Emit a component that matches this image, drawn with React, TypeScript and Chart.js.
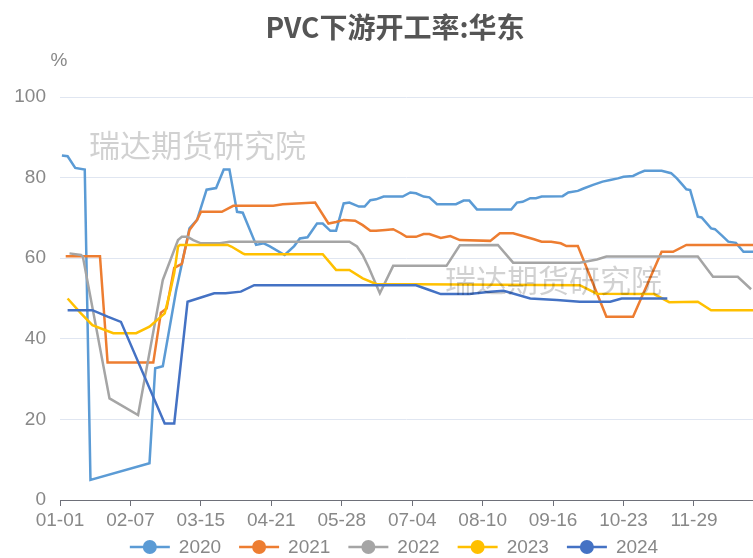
import React, { useEffect, useRef } from "react";
import { Chart, registerables } from "chart.js";

Chart.register(...registerables);

// ---- text ----
const TITLE = "PVC下游开工率:华东";
const UNIT = "%";
const WATERMARK = "瑞达期货研究院";

// ---- axes (category calendar is a leap year: day 0 = 01-01) ----
const xTickDays = [0, 37, 74, 111, 148, 185, 222, 259, 296, 333]; // 01-01 ... 11-29
const yTicks = [0, 20, 40, 60, 80, 100];

// ---- series (x = day of year, 0 = 01-01) ----
const seriesNames = ["2020", "2021", "2022", "2023", "2024"];
const seriesColors = ["#5B9BD5", "#ED7D31", "#A5A5A5", "#FFC000", "#4472C4"];

const days2020 = [1, 4, 8, 13, 16, 47, 50, 54, 61, 68, 72, 77, 82, 86, 89, 93, 96, 103, 107, 110, 118, 123, 126, 130, 135, 138, 142, 145, 149, 152, 157, 160, 163, 166, 170, 180, 184, 187, 191, 194, 198, 208, 212, 215, 219, 237, 240, 243, 247, 250, 253, 264, 267, 272, 275, 280, 285, 289, 293, 296, 301, 304, 307, 316, 321, 324, 327, 329, 331, 335, 337, 342, 344, 348, 351, 355, 359, 364];
const vals2020 = [85.5, 85.3, 82.4, 82, 5, 9.1, 32.7, 33.2, 52, 67.4, 69.5, 77, 77.4, 82, 82, 71.5, 71.3, 63.3, 63.7, 63, 60.8, 63, 64.9, 65.2, 68.6, 68.6, 66.8, 66.8, 73.6, 73.8, 72.8, 72.8, 74.4, 74.6, 75.3, 75.3, 76.3, 76.1, 75.3, 75.1, 73.4, 73.4, 74.3, 74.3, 72.1, 72.1, 73.8, 74, 74.9, 74.9, 75.3, 75.4, 76.3, 76.7, 77.3, 78.2, 79, 79.4, 79.8, 80.2, 80.4, 81.1, 81.7, 81.7, 81.1, 79.8, 78.2, 77.1, 76.9, 70.3, 70.1, 67.4, 67.2, 65.5, 64.1, 63.8, 61.6, 61.6];

const days2021 = [3, 21, 25, 49, 53, 56, 60, 64, 68, 72, 74, 85, 91, 112, 117, 134, 141, 145, 149, 155, 159, 163, 166, 171, 175, 179, 182, 187, 191, 194, 200, 205, 210, 226, 231, 238, 243, 249, 253, 258, 263, 266, 272, 287, 301, 316, 322, 329, 364];
const vals2021 = [60.5, 60.5, 34.1, 34.1, 46.5, 47.5, 57.6, 58.6, 67, 69.5, 71.5, 71.5, 73, 73, 73.4, 73.8, 68.6, 69, 69.5, 69.3, 68.2, 66.8, 66.8, 67, 67.2, 66.2, 65.3, 65.3, 66, 66, 65, 65.5, 64.5, 64.3, 66.2, 66.2, 65.5, 64.7, 64.1, 64.1, 63.7, 63, 63, 45.5, 45.5, 61.6, 61.6, 63.3, 63.3];

const days2022 = [5, 11, 12, 26, 41, 54, 62, 64, 67, 70, 74, 84, 89, 152, 156, 159, 162, 168, 175, 203, 210, 230, 238, 273, 282, 287, 335, 343, 356, 363];
const vals2022 = [61.2, 60.8, 60.4, 25.2, 21.1, 54.6, 64.5, 65.3, 65.3, 64.5, 63.7, 63.7, 64.1, 64.1, 62.9, 60.8, 57.9, 51.3, 58.1, 58.1, 63.2, 63.3, 58.9, 58.9, 59.7, 60.4, 60.4, 55.4, 55.4, 52.3];

const days2023 = [4, 11, 17, 28, 40, 47, 55, 58, 60, 62, 63, 88, 90, 96, 97, 138, 145, 152, 159, 166, 273, 282, 312, 320, 335, 342, 364];
const vals2023 = [50, 46.3, 43.4, 41.4, 41.4, 43, 46.3, 52, 56.3, 62.9, 63.3, 63.3, 62.9, 61.2, 61, 61, 57.1, 57.1, 55, 53.6, 53.3, 51.2, 51.1, 49.1, 49.2, 47.1, 47.1];

const days2024 = [4, 17, 25, 32, 55, 60, 67, 81, 87, 95, 102, 187, 194, 200, 215, 226, 233, 247, 261, 273, 289, 295, 319];
const vals2024 = [47.1, 47.1, 45.5, 44.2, 19, 19, 49.2, 51.3, 51.3, 51.7, 53.3, 53.3, 52.1, 51.1, 51.1, 51.7, 51.9, 50, 49.6, 49.2, 49.2, 50, 50];

const seriesDays = [days2020, days2021, days2022, days2023, days2024];
const seriesVals = [vals2020, vals2021, vals2022, vals2023, vals2024];

function dayLabel(d: number): string {
  const dt = new Date(Date.UTC(2020, 0, 1 + d));
  const m = String(dt.getUTCMonth() + 1).padStart(2, "0");
  const dd = String(dt.getUTCDate()).padStart(2, "0");
  return `${m}-${dd}`;
}

const CJK = '"Noto Sans CJK SC", "Noto Sans", sans-serif';
const LAT = '"Liberation Sans", "Noto Sans", sans-serif';

const decorPlugin = {
  id: "decor",
  afterDatasetsDraw(chart: any) {
    const ctx = chart.ctx;
    ctx.save();
    ctx.font = `31px ${CJK}`;
    ctx.fillStyle = "rgba(0,0,0,0.18)";
    ctx.textBaseline = "middle";
    ctx.textAlign = "left";
    ctx.fillText(WATERMARK, 89, 145);
    ctx.fillText(WATERMARK, 445, 280);
    ctx.restore();
  },
  afterDraw(chart: any) {
    const ctx = chart.ctx;
    const area = chart.chartArea;
    ctx.save();
    // title
    ctx.font = `bold 28px ${CJK}`;
    ctx.fillStyle = "#555555";
    ctx.textAlign = "center";
    ctx.textBaseline = "middle";
    ctx.fillText(TITLE, 395, 27);
    // unit
    ctx.font = `19px ${LAT}`;
    ctx.fillStyle = "#888888";
    ctx.fillText(UNIT, area.left - 1, 61);
    // legend
    ctx.font = `19px ${LAT}`;
    const lineW = 40;
    const gapText = 9;
    const gapItem = 18;
    const widths = seriesNames.map((n) => lineW + gapText + ctx.measureText(n).width);
    const total = widths.reduce((a, b) => a + b, 0) + gapItem * (seriesNames.length - 1);
    let x = 394 - total / 2;
    const y = 547;
    seriesNames.forEach((name, i) => {
      ctx.strokeStyle = seriesColors[i];
      ctx.lineWidth = 2.5;
      ctx.beginPath();
      ctx.moveTo(x, y);
      ctx.lineTo(x + lineW, y);
      ctx.stroke();
      ctx.fillStyle = seriesColors[i];
      ctx.beginPath();
      ctx.arc(x + lineW / 2, y, 7, 0, Math.PI * 2);
      ctx.fill();
      ctx.fillStyle = "#888888";
      ctx.textAlign = "left";
      ctx.textBaseline = "middle";
      ctx.fillText(name, x + lineW + gapText, y + 1);
      x += widths[i] + gapItem;
    });
    ctx.restore();
  },
};

export default function App() {
  const canvasRef = useRef<HTMLCanvasElement | null>(null);

  useEffect(() => {
    if (!canvasRef.current) return;
    const datasets = seriesNames.map((name, i) => ({
      label: name,
      data: seriesDays[i].map((d, j) => ({ x: d, y: seriesVals[i][j] })),
      borderColor: seriesColors[i],
      backgroundColor: seriesColors[i],
      borderWidth: 2.5,
      pointRadius: 0,
      pointHoverRadius: 0,
      tension: 0,
      fill: false,
      order: seriesNames.length - 1 - i,
    }));

    const chart = new Chart(canvasRef.current, {
      type: "line",
      data: { datasets },
      plugins: [decorPlugin],
      options: {
        animation: false,
        responsive: false,
        devicePixelRatio: 1,
        layout: { padding: { top: 97, right: 0, bottom: 0, left: 0 } },
        plugins: {
          legend: { display: false },
          title: { display: false },
          tooltip: { enabled: false },
        },
        scales: {
          x: {
            type: "linear",
            min: 0,
            max: 364,
            afterBuildTicks: (scale: any) => {
              scale.ticks = xTickDays.map((v) => ({ value: v }));
            },
            afterFit: (scale: any) => {
              scale.height = 58;
            },
            ticks: {
              autoSkip: false,
              maxRotation: 0,
              minRotation: 0,
              padding: 3,
              color: "#888888",
              font: { family: LAT, size: 19 },
              callback: (v: any) => dayLabel(Number(v)),
            },
            grid: {
              display: true,
              drawOnChartArea: false,
              drawTicks: true,
              tickLength: 6,
              color: "#6E7079",
            },
            border: { display: true, color: "#6E7079", width: 1 },
          },
          y: {
            min: 0,
            max: 100,
            afterBuildTicks: (scale: any) => {
              scale.ticks = yTicks.map((v) => ({ value: v }));
            },
            afterFit: (scale: any) => {
              scale.width = 60;
            },
            ticks: {
              padding: 14,
              color: "#888888",
              font: { family: LAT, size: 19 },
            },
            grid: {
              color: "#E0E6F1",
              drawTicks: false,
            },
            border: { display: false },
          },
        },
      },
    });
    return () => chart.destroy();
  }, []);

  return (
    <div style={{ position: "absolute", left: 0, top: 0, width: 753, height: 558, background: "#ffffff" }}>
      <canvas ref={canvasRef} width={753} height={558} style={{ display: "block" }} />
    </div>
  );
}
